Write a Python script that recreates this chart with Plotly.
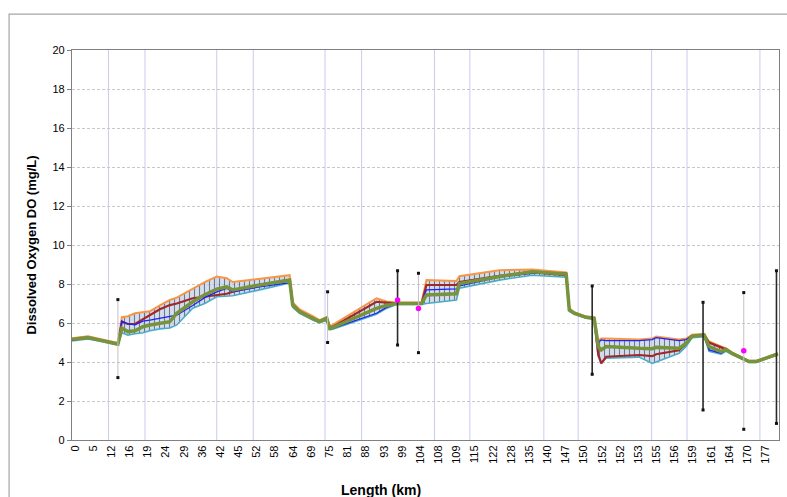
import plotly.graph_objects as go

# Category tick labels (km) shown on the axis, one per label slot
TICK_LABELS = ["0", "5", "12", "16", "19", "24", "29", "36", "42", "45", "52", "58", "64",
               "69", "75", "81", "88", "93", "99", "104", "108", "109", "115", "122", "128",
               "135", "140", "147", "150", "152", "152", "153", "155", "156", "159", "161",
               "164", "170", "177"]

# Position along the category axis (label-slot units)
POS = [-0.16, 0.71, 1.37, 2.36, 2.58, 2.91, 3.30, 3.74, 4.12, 4.67, 5.22, 5.60, 6.48, 7.14,
       7.80, 8.35, 8.68, 10.16, 11.65, 11.81, 11.98, 12.36, 13.08, 13.46, 13.85, 14.01, 14.18,
       16.59, 17.14, 17.69, 19.07, 19.34, 20.99, 21.15, 23.35, 25.16, 27.03, 27.20, 27.47,
       28.13, 28.57, 28.79, 28.96, 29.23, 31.04, 31.76, 31.98, 33.24, 33.63, 33.96, 34.62,
       34.89, 35.55, 35.82, 36.15, 37.09, 37.47, 38.68]

DO_MAIN = [5.16, 5.26, 5.12, 4.92, 5.74, 5.56, 5.60, 5.81, 5.90, 6.00, 6.07, 6.50, 7.09, 7.45,
           7.74, 7.85, 7.70, 7.95, 8.17, 8.20, 6.92, 6.58, 6.24, 6.07, 6.24, 5.73, 5.76,
           6.75, 6.90, 7.00, 7.00, 7.44, 7.50, 8.03, 8.38, 8.63, 8.51, 6.67, 6.50,
           6.29, 6.24, 4.79, 4.62, 4.79, 4.70, 4.68, 4.75, 4.70, 4.96, 5.33, 5.38,
           4.79, 4.53, 4.65, 4.44, 4.02, 4.02, 4.41]
DO_BLUE = [5.14, 5.24, 5.11, 4.92, 6.10, 5.95, 5.90, 6.10, 6.15, 6.25, 6.32, 6.40, 6.90, 7.30,
           7.60, 7.78, 7.60, 7.85, 8.05, 8.10, 6.90, 6.55, 6.22, 6.05, 6.22, 5.70, 5.73,
           6.50, 6.80, 7.00, 7.00, 7.70, 7.75, 7.90, 8.35, 8.55, 8.55, 6.65, 6.50,
           6.29, 6.24, 5.00, 5.13, 5.10, 5.10, 5.15, 5.25, 5.10, 5.15, 5.35, 5.38,
           4.62, 4.45, 4.60, 4.42, 4.02, 4.02, 4.41]
DO_RED = [5.15, 5.25, 5.12, 4.92, 6.07, 5.95, 5.95, 6.20, 6.40, 6.70, 6.92, 7.00, 7.27, 7.35,
          7.44, 7.50, 7.60, 7.95, 8.20, 8.20, 6.95, 6.60, 6.25, 6.08, 6.25, 5.78, 5.80,
          7.09, 7.05, 7.00, 7.00, 7.95, 7.95, 8.10, 8.42, 8.60, 8.45, 6.70, 6.50,
          6.29, 6.24, 4.40, 3.93, 4.27, 4.36, 4.30, 4.40, 4.60, 4.95, 5.33, 5.38,
          5.00, 4.75, 4.65, 4.46, 4.02, 4.02, 4.41]
DO_UPPER = [5.22, 5.32, 5.18, 4.97, 6.30, 6.35, 6.50, 6.55, 6.60, 6.90, 7.18, 7.30, 7.78, 8.10,
            8.38, 8.30, 8.10, 8.25, 8.43, 8.45, 7.05, 6.70, 6.35, 6.15, 6.30, 5.85, 5.90,
            7.27, 7.10, 7.05, 7.05, 8.20, 8.15, 8.40, 8.70, 8.75, 8.60, 6.75, 6.55,
            6.33, 6.30, 5.10, 5.20, 5.21, 5.15, 5.20, 5.30, 5.15, 5.20, 5.40, 5.45,
            5.05, 4.80, 4.70, 4.49, 4.06, 4.06, 4.45]
DO_LOWER = [5.08, 5.18, 5.06, 4.87, 5.50, 5.38, 5.45, 5.50, 5.60, 5.70, 5.74, 5.90, 6.76, 7.00,
            7.35, 7.40, 7.40, 7.70, 8.00, 8.05, 6.80, 6.50, 6.15, 6.00, 6.15, 5.65, 5.68,
            6.45, 6.75, 6.95, 6.95, 7.00, 7.18, 7.78, 8.20, 8.45, 8.35, 6.60, 6.45,
            6.25, 6.20, 4.30, 3.95, 4.20, 4.25, 3.93, 4.00, 4.45, 4.80, 5.25, 5.30,
            4.55, 4.40, 4.55, 4.39, 3.98, 3.98, 4.37]

# Observed data (position, max, min, mean or None, dark bar?)
OBS_POS = [2.36, 13.90, 17.75, 18.90, 28.46, 34.56, 36.80, 38.60]
OBS_MAX = [7.2, 7.6, 8.68, 8.55, 7.9, 7.06, 7.56, 8.68]
OBS_MIN = [3.2, 5.0, 4.87, 4.48, 3.37, 1.54, 0.55, 0.85]
OBS_MEAN = [None, None, 7.18, 6.74, None, None, 4.58, None]
OBS_DARK = [False, False, True, False, True, True, False, True]

# Vertical gridline positions (label-slot units)
GRID_X = [1.84, 3.85, 7.80, 9.81, 13.76, 15.77, 19.78, 21.73, 25.80, 27.69, 31.73, 33.68, 37.69]

FONT = "Liberation Sans, Arial, sans-serif"

fig = go.Figure()

# band
fig.add_trace(go.Scatter(x=POS, y=DO_LOWER, mode="lines",
                         line=dict(color="#4BACC6", width=1.6), showlegend=False,
                         hoverinfo="skip"))
fig.add_trace(go.Scatter(x=POS, y=DO_UPPER, mode="lines", fill="tonexty",
                         fillcolor="rgba(185,200,225,0.6)",
                         fillpattern=dict(shape="|", fgcolor="rgba(0,0,0,0.9)",
                                          bgcolor="rgba(180,200,228,0.6)", size=5,
                                          solidity=0.22),
                         line=dict(color="#F79646", width=2), showlegend=False,
                         hoverinfo="skip"))
fig.add_trace(go.Scatter(x=POS, y=DO_RED, mode="lines",
                         line=dict(color="#A0282A", width=2.2), showlegend=False))
fig.add_trace(go.Scatter(x=POS, y=DO_BLUE, mode="lines",
                         line=dict(color="#1F1FFF", width=1.3), showlegend=False))
fig.add_trace(go.Scatter(x=POS, y=DO_MAIN, mode="lines",
                         line=dict(color="#77933C", width=3.5), showlegend=False))

# observed range bars
for dark in (False, True):
    xs, ys = [], []
    for p, mx, mn, d in zip(OBS_POS, OBS_MAX, OBS_MIN, OBS_DARK):
        if d == dark:
            xs += [p, p, None]
            ys += [mn, mx, None]
    fig.add_trace(go.Scatter(x=xs, y=ys, mode="lines",
                             line=dict(color="#2a2a2a" if dark else "#c4c0cc",
                                       width=1.6 if dark else 1.0),
                             showlegend=False, hoverinfo="skip"))

fig.add_trace(go.Scatter(x=OBS_POS + OBS_POS, y=OBS_MAX + OBS_MIN, mode="markers",
                         marker=dict(symbol="square", size=3, color="#111111"),
                         showlegend=False))
mx_, my_ = [], []
for p, m in zip(OBS_POS, OBS_MEAN):
    if m is not None:
        mx_.append(p)
        my_.append(m)
fig.add_trace(go.Scatter(x=mx_, y=my_, mode="markers",
                         marker=dict(symbol="circle", size=5.5, color="#FF00FF"),
                         showlegend=False))

shapes = []
for g in GRID_X:
    shapes.append(dict(type="line", xref="x", yref="paper", x0=g, x1=g, y0=0, y1=1,
                       line=dict(color="#CBCBF2", width=1), layer="below"))
# outer chart-area frame
shapes.append(dict(type="rect", xref="paper", yref="paper", x0=-0.089, x1=1.2,
                   y0=-0.5, y1=1.092, line=dict(color="#A6A6A6", width=1.2)))

fig.update_layout(
    width=787, height=497,
    margin=dict(l=72, r=8, t=50, b=57),
    paper_bgcolor="white", plot_bgcolor="white",
    font=dict(family=FONT, size=11, color="#000000"),
    shapes=shapes,
    xaxis=dict(range=[-0.165, 38.74], tickmode="array",
               tickvals=list(range(len(TICK_LABELS))), ticktext=TICK_LABELS,
               tickangle=-90, showgrid=False, zeroline=False,
               showline=True, linecolor="#808080", linewidth=1.2, mirror=True,
               ticks="", tickfont=dict(size=11, family=FONT)),
    yaxis=dict(range=[0, 20], dtick=2, showgrid=True, gridcolor="#C8C8C8",
               griddash="3px,2px", gridwidth=1, zeroline=False,
               showline=True, linecolor="#808080", linewidth=1.2, mirror=True,
               ticks="outside", ticklen=4, tickcolor="#808080",
               tickfont=dict(size=11, family=FONT),
               title=dict(text="<b>Dissolved Oxygen DO (mg/L)</b>",
                          font=dict(size=13, family=FONT), standoff=12)),
    annotations=[dict(text="<b>Length (km)</b>", xref="paper", yref="paper",
                      x=0.437, y=-0.128, xanchor="center", yanchor="middle",
                      showarrow=False, font=dict(size=14, family=FONT))],
)

fig.write_html("out.html")
